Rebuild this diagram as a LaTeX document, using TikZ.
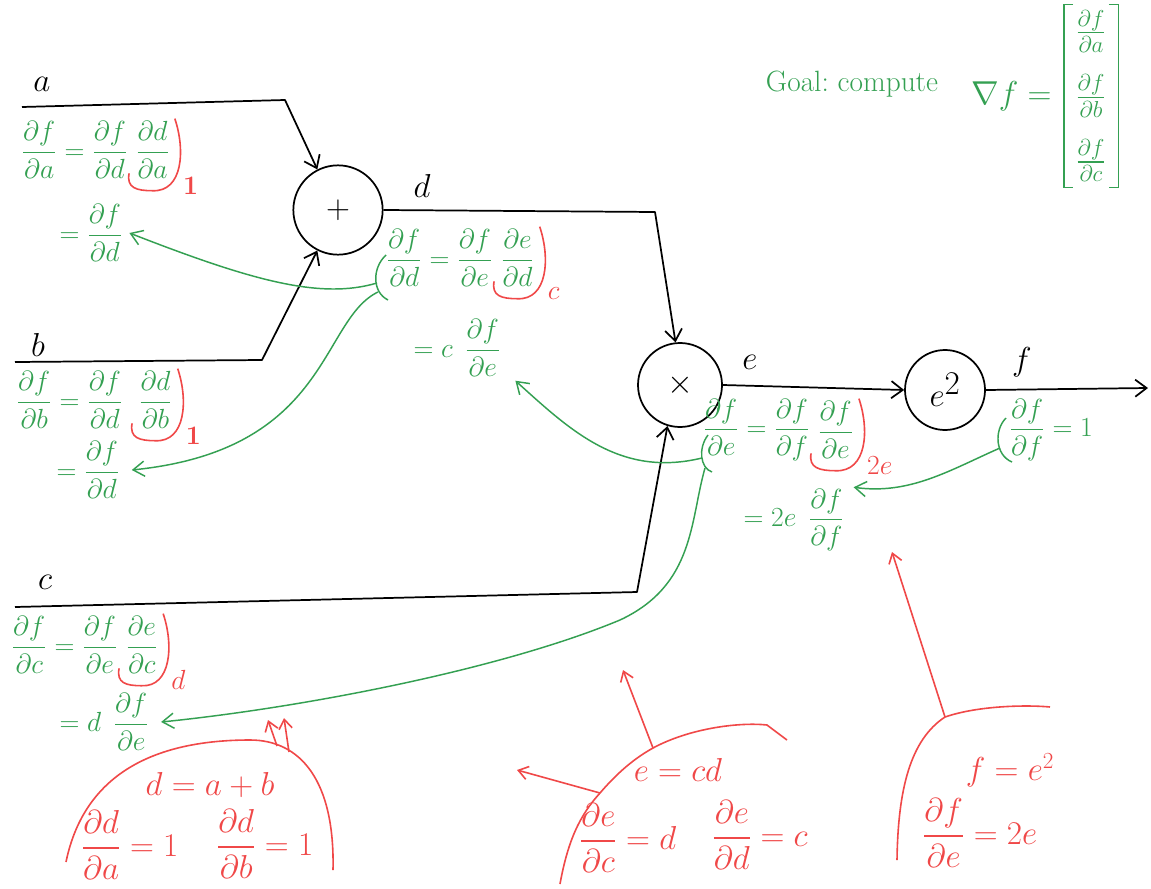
\documentclass[tikz,border=0pt]{standalone}
\usepackage{amsmath}
\usepackage{amssymb}
\usetikzlibrary{arrows.meta,positioning,calc}

\definecolor{penGreen}{RGB}{52,160,82}
\definecolor{penRed}{RGB}{240,72,72}
\newcommand{\pfrac}[2]{\dfrac{\partial #1}{\partial #2}}
% red loop round a local derivative, with its value
\newcommand{\localmark}[2]{%
  \draw[rpen] ([shift={(3pt,1pt)}]#1.north east)
    .. controls ([shift={(11pt,0pt)}]#1.east) and ([shift={(9pt,-9pt)}]#1.south east)
    .. ([yshift=-8pt]#1.south)
    .. controls ([shift={(-12pt,-8pt)}]#1.south) and ([shift={(-6pt,-6pt)}]#1.south west)
    .. ([shift={(-4pt,5pt)}]#1.south west);
  \node[rnote, anchor=west] at ([shift={(9pt,-4pt)}]#1.south east) {#2};}

\begin{document}
\begin{tikzpicture}[
        x=0.75pt, y=-0.75pt,
        font=\fontsize{20}{24}\selectfont,
        op/.style={draw, circle, line width=1.3pt, inner sep=0pt,
            font=\fontsize{34}{36}\selectfont},
        var/.style={inner sep=1pt, font=\fontsize{28}{30}\selectfont},
        wire/.style={line width=1.3pt, line join=round},
        arrow/.style={wire, -{Straight Barb[length=3mm, width=4.5mm]}},
        geq/.style={text=penGreen, inner sep=1pt},
        gpen/.style={penGreen, line width=1.1pt},
        garrow/.style={gpen, -{Straight Barb[length=3mm, width=4mm]}},
        req/.style={text=penRed, inner sep=1pt, font=\fontsize{24}{28}\selectfont},
        rpen/.style={penRed, line width=1.2pt},
        rarrow/.style={rpen, -{Straight Barb[length=2.5mm, width=3.5mm]}},
        rnote/.style={text=penRed, inner sep=0pt, font=\fontsize{20}{22}\selectfont}
    ]
    \useasboundingbox[fill=white] (0,0) rectangle (1151,888);

    % gates
    \node[op, minimum size=67pt] (plus) at (338,210) {$+$};
    \node[op, minimum size=63pt] (times) at (680,385) {$\times$};
    \node[op, minimum size=60pt] (sq) at (945,390) {$e^2$};

    % wires
    \node[var] (la) at (42,84) {$a$};
    \node[var] (lb) at (38,345) {$b$};
    \node[var] (lc) at (45,582) {$c$};
    \node[var] (ld) at (422,186) {$d$};
    \node[var] (le) at (750,362) {$e$};
    \node[var] (lf) at (1022,362) {$f$};
    \coordinate (aIn) at (22,107);
    \coordinate (aBend) at (285,100);
    \coordinate (bIn) at (15,362);
    \coordinate (bBend) at (262,360);
    \coordinate (cIn) at (15,607);
    \coordinate (cBend) at (637,592);
    \coordinate (dBend) at (655,212);
    \coordinate (fOut) at (1148,388);
    \draw[arrow] (aIn) -- (aBend) -- (plus.117);
    \draw[arrow] (bIn) -- (bBend) -- (plus.243);
    \draw[arrow] (cIn) -- (cBend) -- (times.253);
    \draw[arrow] (plus.east) -- (dBend) -- (times.96);
    \draw[arrow] (times.east) -- (sq.west);
    \draw[arrow] (sq.east) -- (fOut);

    % chain rule at every wire
    \node[geq, anchor=west] (gA) at (20,150) {$\pfrac{f}{a} = \pfrac{f}{d}$};
    \node[geq, right=4pt of gA] (kA) {$\pfrac{d}{a}$};
    \localmark{kA}{\textbf{1}}
    \node[geq, anchor=west] (rA) at (58,233) {$= \pfrac{f}{d}$};

    \node[geq, anchor=west] (gB) at (15,400) {$\pfrac{f}{b} = \pfrac{f}{d}$};
    \node[geq, right=10pt of gB] (kB) {$\pfrac{d}{b}$};
    \localmark{kB}{\textbf{1}}
    \node[geq, anchor=west] (rB) at (55,470) {$= \pfrac{f}{d}$};

    \node[geq, anchor=west] (gC) at (10,645) {$\pfrac{f}{c} = \pfrac{f}{e}$};
    \node[geq, right=4pt of gC] (kC) {$\pfrac{e}{c}$};
    \localmark{kC}{$d$}
    \node[geq, anchor=west] (rC) at (58,722) {$= d\;\, \pfrac{f}{e}$};

    \node[geq, anchor=west] (gD) at (385,258) {$\pfrac{f}{d} = \pfrac{f}{e}$};
    \node[geq, right=4pt of gD] (kD) {$\pfrac{e}{d}$};
    \localmark{kD}{$c$}
    \node[geq, anchor=west] (rD) at (412,348) {$= c\;\, \pfrac{f}{e}$};

    \node[geq, anchor=west] (gE) at (702,430) {$\pfrac{f}{e} = \pfrac{f}{f}$};
    \node[geq, right=4pt of gE] (kE) {$\pfrac{f}{e}$};
    \localmark{kE}{$2e$}
    \node[geq, anchor=west] (rE) at (742,520) {$= 2e\;\, \pfrac{f}{f}$};

    \node[geq, anchor=west] (gF) at (1008,430) {$\pfrac{f}{f} = 1$};

    % gradients flowing back
    \coordinate (pD1) at (386,255);
    \coordinate (pD2) at (388,300);
    \coordinate (pE1) at (708,435);
    \coordinate (pE2) at (712,472);
    \coordinate (pF1) at (1006,418);
    \coordinate (pF2) at (1012,462);
    \draw[gpen] (pD1) .. controls (372,268) and (372,292) .. (pD2);
    \draw[gpen] (pE1) .. controls (698,448) and (700,468) .. (pE2);
    \draw[gpen] (pF1) .. controls (994,430) and (995,455) .. (pF2);
    \coordinate (sD1) at (377,283);
    \coordinate (sD2) at (378,292);
    \coordinate (sE1) at (702,458);
    \coordinate (sE2) at (705,468);
    \coordinate (sF) at (1000,448);
    \draw[garrow] (sD1) .. controls (320,300) and (250,280) .. ([xshift=4pt]rA.east);
    \draw[garrow] (sD2) .. controls (320,320) and (330,450) .. ([xshift=8pt]rB.east);
    \draw[garrow] (sE1) .. controls (620,478) and (570,430) .. ([shift={(10pt,-2pt)}]rD.south east);
    \draw[garrow] (sE2) .. controls (690,520) and (695,585) .. (620,620)
        .. controls (500,670) and (300,708) .. ([xshift=8pt]rC.east);
    \draw[garrow] (sF) .. controls (950,470) and (910,495) .. ([xshift=6pt]rE.north east);

    % local gradients
    \node[req] (nD) at (210,785) {$d = a + b$};
    \node[req] (nDa) at (130,845) {$\pfrac{d}{a} = 1$};
    \node[req] (nDb) at (265,844) {$\pfrac{d}{b} = 1$};
    \draw[rpen] (66,862) .. controls (85,770) and (160,740) .. (250,740)
        .. controls (300,740) and (335,780) .. (333,870);
    \coordinate (jD1) at (277,746);
    \coordinate (jD2) at (289,752);
    \coordinate (uD1) at (268,720);
    \coordinate (uD2) at (284,718);
    \draw[rarrow] (jD1) -- (uD1);
    \draw[rarrow] (jD2) -- (uD2);

    \node[req] (nE) at (678,770) {$e = cd$};
    \node[req] (nEc) at (628,838) {$\pfrac{e}{c} = d$};
    \node[req] (nEd) at (760,835) {$\pfrac{e}{d} = c$};
    \draw[rpen] (560,884) .. controls (568,840) and (580,815) .. (600,793)
        .. controls (618,772) and (635,758) .. (653,748)
        .. controls (690,728) and (740,722) .. (767,725) -- (787,740);
    \coordinate (jE1) at (653,748);
    \coordinate (jE2) at (600,793);
    \coordinate (uE1) at (623,670);
    \coordinate (uE2) at (517,770);
    \draw[rarrow] (jE1) -- (uE1);
    \draw[rarrow] (jE2) -- (uE2);

    \node[req] (nF) at (1010,770) {$f = e^{2}$};
    \node[req] (nFe) at (980,833) {$\pfrac{f}{e} = 2e$};
    \draw[rpen] (897,860) .. controls (898,790) and (910,740) .. (945,717)
        .. controls (980,705) and (1030,705) .. (1050,707);
    \coordinate (jF) at (945,717);
    \coordinate (uF) at (892,552);
    \draw[rarrow] (jF) -- (uF);

    % the goal
    \node[geq, font=\fontsize{22}{26}\selectfont] (goal) at (852,84) {Goal:\ compute};
    \node[geq, align=center, inner xsep=9pt, inner ysep=4pt,
        font=\fontsize{24}{28}\selectfont] (vec) at (1091,96)
    {$\frac{\partial f}{\partial a}$\\[16pt] $\frac{\partial f}{\partial b}$\\[16pt]
        $\frac{\partial f}{\partial c}$};
    \node[geq, left=8pt of vec, font=\fontsize{24}{28}\selectfont] (nabla) {$\nabla f =$};
    \draw[gpen] ([xshift=7pt]vec.north west) -- (vec.north west) -- (vec.south west)
        -- ++(7pt,0);
    \draw[gpen] ([xshift=-7pt]vec.north east) -- (vec.north east) -- (vec.south east)
        -- ++(-7pt,0);
\end{tikzpicture}
\end{document}
